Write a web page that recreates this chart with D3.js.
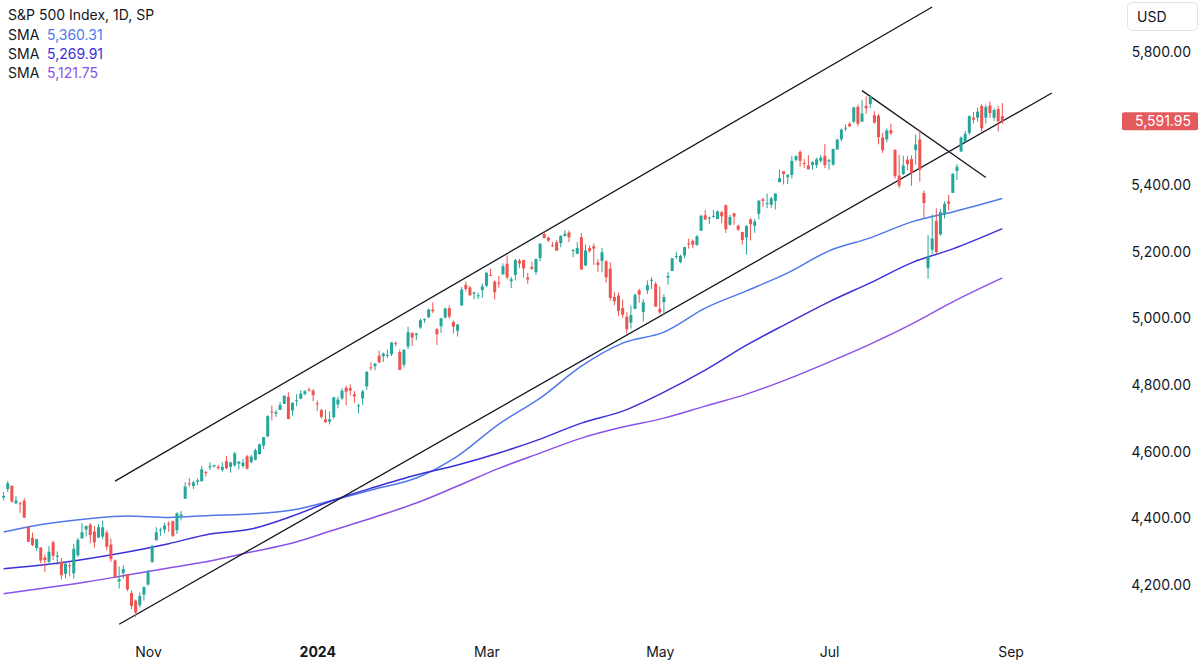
<!DOCTYPE html>
<html>
<head>
<meta charset="utf-8">
<script src="https://cdn.jsdelivr.net/npm/d3@7"></script>
<style>
  html, body { margin: 0; padding: 0; background: #ffffff; }
  svg { display: block; font-family: Inter, "Noto Sans", sans-serif; }
</style>
</head>
<body>
<div id="chart"></div>
<script>
// S&P 500 daily candles, Sep 13 2023 - Aug 29 2024 (one month per line)
const days = [
  "2023-09-13","2023-09-14","2023-09-15","2023-09-18","2023-09-19","2023-09-20","2023-09-21","2023-09-22","2023-09-25","2023-09-26","2023-09-27","2023-09-28","2023-09-29",
  "2023-10-02","2023-10-03","2023-10-04","2023-10-05","2023-10-06","2023-10-09","2023-10-10","2023-10-11","2023-10-12","2023-10-13","2023-10-16","2023-10-17","2023-10-18","2023-10-19","2023-10-20","2023-10-23","2023-10-24","2023-10-25","2023-10-26","2023-10-27","2023-10-30","2023-10-31",
  "2023-11-01","2023-11-02","2023-11-03","2023-11-06","2023-11-07","2023-11-08","2023-11-09","2023-11-10","2023-11-13","2023-11-14","2023-11-15","2023-11-16","2023-11-17","2023-11-20","2023-11-21","2023-11-22","2023-11-24","2023-11-27","2023-11-28","2023-11-29","2023-11-30",
  "2023-12-01","2023-12-04","2023-12-05","2023-12-06","2023-12-07","2023-12-08","2023-12-11","2023-12-12","2023-12-13","2023-12-14","2023-12-15","2023-12-18","2023-12-19","2023-12-20","2023-12-21","2023-12-22","2023-12-26","2023-12-27","2023-12-28","2023-12-29",
  "2024-01-02","2024-01-03","2024-01-04","2024-01-05","2024-01-08","2024-01-09","2024-01-10","2024-01-11","2024-01-12","2024-01-16","2024-01-17","2024-01-18","2024-01-19","2024-01-22","2024-01-23","2024-01-24","2024-01-25","2024-01-26","2024-01-29","2024-01-30","2024-01-31",
  "2024-02-01","2024-02-02","2024-02-05","2024-02-06","2024-02-07","2024-02-08","2024-02-09","2024-02-12","2024-02-13","2024-02-14","2024-02-15","2024-02-16","2024-02-20","2024-02-21","2024-02-22","2024-02-23","2024-02-26","2024-02-27","2024-02-28","2024-02-29",
  "2024-03-01","2024-03-04","2024-03-05","2024-03-06","2024-03-07","2024-03-08","2024-03-11","2024-03-12","2024-03-13","2024-03-14","2024-03-15","2024-03-18","2024-03-19","2024-03-20","2024-03-21","2024-03-22","2024-03-25","2024-03-26","2024-03-27","2024-03-28",
  "2024-04-01","2024-04-02","2024-04-03","2024-04-04","2024-04-05","2024-04-08","2024-04-09","2024-04-10","2024-04-11","2024-04-12","2024-04-15","2024-04-16","2024-04-17","2024-04-18","2024-04-19","2024-04-22","2024-04-23","2024-04-24","2024-04-25","2024-04-26","2024-04-29","2024-04-30",
  "2024-05-01","2024-05-02","2024-05-03","2024-05-06","2024-05-07","2024-05-08","2024-05-09","2024-05-10","2024-05-13","2024-05-14","2024-05-15","2024-05-16","2024-05-17","2024-05-20","2024-05-21","2024-05-22","2024-05-23","2024-05-24","2024-05-28","2024-05-29","2024-05-30","2024-05-31",
  "2024-06-03","2024-06-04","2024-06-05","2024-06-06","2024-06-07","2024-06-10","2024-06-11","2024-06-12","2024-06-13","2024-06-14","2024-06-17","2024-06-18","2024-06-20","2024-06-21","2024-06-24","2024-06-25","2024-06-26","2024-06-27","2024-06-28",
  "2024-07-01","2024-07-02","2024-07-03","2024-07-05","2024-07-08","2024-07-09","2024-07-10","2024-07-11","2024-07-12","2024-07-15","2024-07-16","2024-07-17","2024-07-18","2024-07-19","2024-07-22","2024-07-23","2024-07-24","2024-07-25","2024-07-26","2024-07-29","2024-07-30","2024-07-31",
  "2024-08-01","2024-08-02","2024-08-05","2024-08-06","2024-08-07","2024-08-08","2024-08-09","2024-08-12","2024-08-13","2024-08-14","2024-08-15","2024-08-16","2024-08-19","2024-08-20","2024-08-21","2024-08-22","2024-08-23","2024-08-26","2024-08-27","2024-08-28","2024-08-29"
];

const opens = [
  4462.65,4487.78,4497.98,4445.13,4445.41,4452.81,4374.36,4341.74,4310.62,4312.88,4282.63,4269.65,4328.18,
  4284.52,4269.75,4233.83,4259.31,4234.79,4289.02,4339.75,4366.59,4380.94,4360.49,4342.37,4345.23,4357.35,4321.36,4273.85,4210.40,4235.79,4232.42,4175.99,4152.93,4139.39,4171.33,
  4201.27,4268.26,4334.23,4364.27,4366.21,4384.37,4391.41,4364.15,4406.66,4458.97,4505.30,4497.08,4509.55,4511.70,4538.77,4553.04,4555.84,4554.86,4545.55,4571.84,4554.87,
  4559.43,4564.37,4557.25,4586.23,4568.84,4576.20,4593.39,4618.30,4646.20,4721.04,4714.23,4725.58,4743.72,4764.73,4724.29,4753.92,4758.86,4773.45,4786.44,4782.88,
  4745.20,4725.07,4697.42,4690.57,4703.70,4741.93,4759.94,4792.13,4791.18,4772.35,4739.13,4760.10,4796.28,4853.42,4856.80,4888.56,4886.66,4888.91,4892.95,4925.89,4899.19,
  4861.11,4916.06,4957.19,4950.16,4973.05,4995.16,5004.17,5026.83,4967.94,4976.44,5003.14,5031.13,4989.32,4963.03,5038.83,5100.92,5093.00,5074.60,5067.20,5085.36,
  5098.51,5130.99,5110.52,5108.03,5132.38,5164.46,5111.96,5130.79,5173.49,5175.14,5123.31,5154.77,5139.09,5181.69,5253.43,5242.48,5219.52,5228.85,5226.31,5248.03,
  5257.97,5204.29,5194.37,5244.05,5158.95,5211.37,5217.03,5167.88,5172.95,5171.51,5149.67,5064.59,5068.97,5031.52,5005.44,4987.33,5028.85,5084.86,5019.88,5084.65,5114.13,5103.78,
  5029.03,5049.32,5122.78,5142.42,5187.20,5168.98,5189.03,5225.49,5233.08,5221.10,5263.26,5310.07,5303.10,5305.35,5298.69,5319.28,5340.26,5281.45,5315.91,5278.73,5259.77,5243.21,
  5297.15,5278.24,5314.48,5357.80,5343.81,5341.22,5353.00,5409.13,5441.93,5424.08,5431.11,5476.15,5499.99,5466.77,5459.58,5460.73,5460.71,5473.59,5488.48,
  5471.08,5461.84,5507.44,5537.91,5572.75,5584.24,5591.26,5635.21,5590.76,5638.16,5644.09,5610.07,5608.56,5543.37,5537.84,5565.30,5505.84,5428.70,5433.67,5476.55,5478.73,5505.59,
  5537.34,5376.63,5151.14,5206.42,5293.13,5252.57,5311.76,5351.48,5376.98,5442.82,5501.13,5530.50,5557.23,5602.88,5603.09,5637.77,5602.89,5639.66,5602.58,5629.17,5607.30
];

const highs = [
  4479.39,4511.99,4497.98,4466.36,4449.85,4461.03,4375.70,4357.40,4338.51,4313.01,4292.07,4317.27,4333.15,
  4300.58,4281.15,4268.50,4267.13,4324.10,4341.73,4385.46,4378.64,4385.85,4377.10,4383.33,4393.57,4364.20,4339.54,4276.56,4255.84,4259.38,4232.42,4183.60,4156.70,4177.47,4195.55,
  4245.64,4319.72,4373.62,4372.21,4386.26,4391.20,4393.40,4418.03,4421.76,4508.67,4521.17,4511.99,4520.12,4557.11,4542.14,4568.43,4560.31,4560.52,4568.14,4587.64,4569.89,
  4599.39,4572.37,4578.56,4590.74,4590.92,4609.23,4623.71,4643.93,4709.69,4738.57,4725.53,4749.52,4768.69,4778.01,4748.71,4772.94,4784.72,4785.39,4793.30,4788.43,
  4754.33,4729.29,4726.78,4721.49,4764.54,4765.47,4790.80,4798.50,4802.40,4782.34,4744.23,4785.79,4842.07,4868.41,4866.48,4903.68,4898.15,4906.69,4929.31,4931.09,4906.75,
  4906.97,4975.29,4957.19,4957.77,4999.89,5000.40,5030.06,5048.39,4971.30,5002.52,5032.72,5038.70,4993.71,4983.21,5094.39,5111.06,5097.66,5080.69,5077.37,5104.99,
  5140.33,5149.67,5114.54,5127.97,5165.62,5189.26,5124.66,5179.14,5179.14,5176.85,5136.86,5170.28,5180.31,5226.19,5261.10,5246.09,5229.09,5235.16,5249.26,5264.85,
  5263.95,5208.34,5228.75,5256.59,5222.18,5219.57,5224.81,5178.43,5211.78,5175.03,5168.43,5079.84,5077.96,5056.66,5019.02,5038.84,5076.12,5089.48,5057.75,5114.62,5123.49,5110.83,
  5096.12,5073.21,5139.12,5181.00,5200.23,5191.95,5215.30,5239.66,5237.26,5250.37,5311.76,5325.49,5305.45,5325.32,5324.32,5323.18,5341.88,5311.65,5315.91,5282.27,5260.21,5280.33,
  5302.11,5298.80,5354.16,5362.35,5375.08,5365.79,5375.95,5447.25,5441.93,5432.39,5488.50,5490.38,5505.53,5478.31,5490.66,5472.88,5483.14,5490.81,5523.64,
  5479.55,5509.69,5539.27,5570.33,5583.11,5590.75,5635.39,5642.45,5655.56,5666.94,5669.67,5622.49,5614.05,5557.50,5570.36,5585.34,5508.04,5491.59,5488.32,5487.74,5489.46,5551.51,
  5566.16,5383.89,5250.89,5312.34,5330.64,5328.03,5351.88,5371.20,5436.50,5463.22,5546.23,5563.51,5608.30,5620.51,5632.68,5643.22,5641.82,5651.62,5631.18,5639.17,5646.95
];

const lows = [
  4453.52,4478.69,4447.21,4442.11,4416.61,4401.38,4329.17,4316.49,4302.70,4265.98,4238.63,4264.38,4274.86,
  4260.21,4216.45,4220.48,4225.91,4219.55,4283.79,4339.64,4345.34,4325.43,4311.97,4342.37,4337.54,4303.84,4269.69,4223.03,4189.22,4219.43,4181.42,4127.90,4103.78,4132.94,4153.12,
  4197.74,4268.26,4334.23,4347.53,4355.41,4359.76,4343.94,4353.34,4393.82,4458.97,4495.31,4487.83,4499.66,4510.36,4525.51,4545.05,4552.80,4546.32,4540.51,4547.15,4537.24,
  4554.71,4546.72,4551.68,4546.50,4565.22,4574.06,4590.74,4608.09,4643.23,4694.34,4704.69,4725.58,4743.72,4697.82,4708.35,4736.77,4758.45,4768.90,4780.98,4751.99,
  4722.67,4699.71,4687.53,4682.11,4699.82,4730.35,4756.20,4739.58,4768.98,4747.12,4714.82,4740.57,4785.87,4844.05,4844.37,4865.94,4869.34,4881.47,4887.40,4916.27,4845.15,
  4853.52,4907.99,4918.09,4934.88,4969.05,4987.09,5000.34,5016.83,4920.31,4956.45,4999.44,4999.52,4955.02,4946.00,5038.83,5081.46,5068.91,5057.29,5058.35,5061.89,
  5094.16,5127.18,5056.82,5092.22,5131.59,5117.50,5091.14,5114.48,5151.88,5123.30,5104.35,5145.47,5131.59,5171.55,5240.66,5229.87,5216.09,5203.42,5213.92,5245.82,
  5229.20,5184.05,5194.37,5146.06,5157.21,5197.35,5160.78,5138.70,5138.77,5107.94,5052.47,5039.83,5007.25,5001.89,4953.56,4969.40,5027.96,5047.02,4990.58,5073.14,5088.65,5035.31,
  5013.45,5011.05,5101.22,5142.42,5178.96,5165.86,5180.41,5209.68,5211.16,5217.98,5263.26,5296.19,5283.59,5302.40,5297.87,5286.01,5256.93,5278.39,5280.89,5262.70,5222.10,5191.68,
  5234.32,5257.63,5297.64,5335.36,5331.33,5331.52,5327.25,5409.13,5402.51,5403.75,5420.40,5471.32,5455.56,5452.03,5447.59,5446.56,5451.87,5467.54,5451.12,
  5446.53,5458.43,5507.42,5531.63,5562.51,5574.57,5586.44,5576.53,5590.44,5614.75,5631.19,5584.81,5522.81,5497.04,5529.04,5550.90,5419.98,5390.95,5430.70,5444.44,5398.11,5461.64,
  5410.42,5302.03,5119.26,5193.56,5195.54,5248.39,5300.41,5324.37,5376.98,5415.85,5501.13,5530.50,5550.74,5585.50,5591.57,5560.95,5585.16,5602.34,5593.48,5561.05,5583.71
];

const closes = [
  4467.44,4505.10,4450.32,4453.53,4443.95,4402.20,4330.00,4320.06,4337.44,4273.53,4274.51,4299.70,4288.05,
  4288.39,4229.45,4263.75,4258.19,4308.50,4335.66,4358.24,4376.95,4349.61,4327.78,4373.63,4373.20,4314.60,4278.00,4224.16,4217.04,4247.68,4186.77,4137.23,4117.37,4166.82,4193.80,
  4237.86,4317.78,4358.34,4365.98,4378.38,4382.78,4347.35,4415.24,4411.55,4495.70,4502.88,4508.24,4514.02,4547.38,4538.19,4556.62,4559.34,4550.43,4554.89,4550.58,4567.80,
  4594.63,4569.78,4567.18,4549.34,4585.59,4604.37,4622.44,4643.70,4707.09,4719.55,4719.19,4740.56,4768.37,4698.35,4746.75,4754.63,4774.75,4781.58,4783.35,4769.83,
  4742.83,4704.81,4688.68,4697.24,4763.54,4756.50,4783.45,4780.24,4783.83,4765.98,4739.21,4780.94,4839.81,4850.43,4864.60,4868.55,4894.16,4890.97,4927.93,4924.97,4845.65,
  4906.19,4958.61,4942.81,4954.23,4995.06,4997.91,5026.61,5021.84,4953.17,5000.62,5029.73,5005.57,4975.51,4981.80,5087.03,5088.80,5069.53,5078.18,5069.76,5096.27,
  5137.08,5130.95,5078.65,5104.76,5157.36,5123.69,5117.94,5175.27,5165.31,5150.48,5117.09,5149.42,5178.51,5224.62,5241.53,5234.18,5218.19,5203.58,5248.49,5254.35,
  5243.77,5205.81,5211.49,5147.21,5204.34,5202.39,5209.91,5160.64,5199.06,5123.41,5061.82,5051.41,5022.21,5011.12,4967.23,5010.60,5070.55,5071.63,5048.42,5099.96,5116.17,5035.69,
  5018.39,5064.20,5127.79,5180.74,5187.70,5187.67,5214.08,5222.68,5221.42,5246.68,5308.15,5297.10,5303.27,5308.13,5321.41,5307.01,5267.84,5304.72,5306.04,5266.95,5235.48,5277.51,
  5283.40,5291.34,5354.03,5352.96,5346.99,5360.79,5375.32,5421.03,5433.74,5431.60,5473.23,5487.03,5473.17,5464.62,5447.87,5469.30,5477.90,5482.87,5460.48,
  5475.09,5509.01,5537.02,5567.19,5572.85,5576.98,5633.91,5584.54,5615.35,5631.22,5667.20,5588.27,5544.59,5505.00,5564.41,5555.74,5427.13,5399.22,5459.10,5463.54,5436.44,5522.30,
  5446.68,5346.56,5186.33,5240.03,5199.50,5319.31,5344.16,5344.39,5434.43,5455.21,5543.22,5554.25,5608.25,5597.12,5620.85,5570.64,5634.61,5616.84,5625.80,5592.18,5591.95
];

// trading days after the last bar (empty right margin, Sep tick, trend line ends)
const futureDays = ["2024-08-30","2024-09-03","2024-09-04","2024-09-05","2024-09-06","2024-09-09","2024-09-10","2024-09-11","2024-09-12","2024-09-13","2024-09-16","2024-09-17"];

// moving averages at sample dates
const smaDates = ["2023-09-13","2023-09-27","2023-10-11","2023-10-25","2023-11-08","2023-11-22","2023-12-07","2023-12-21","2024-01-08","2024-01-23","2024-02-06","2024-02-21","2024-03-06","2024-03-20","2024-04-04","2024-04-18","2024-05-02","2024-05-16","2024-05-31","2024-06-14","2024-07-01","2024-07-16","2024-07-30","2024-08-13","2024-08-29"];
const smaFast = [4359,4383,4398,4407,4403,4409,4413,4425,4455,4488,4521,4587,4683,4761,4857,4926,4959,5031,5083,5137,5203,5242,5290,5320,5360.31];
const smaMid  = [4249,4261,4278,4299,4324,4353,4368,4407,4455,4494,4530,4560,4596,4638,4686,4722,4779,4845,4920,4986,5050,5107,5167,5209,5269.91];
const smaSlow = [4174,4191,4209,4230,4251,4272,4299,4326,4365,4404,4446,4497,4550,4596,4641,4674,4701,4737,4773,4818,4869,4923,4983,5050,5121.75];

// hand-drawn trend lines: [date, price] start and end
const trendStarts = [["2023-10-20", 4512], ["2023-10-23", 4082], ["2024-07-12", 5684]];
const trendEnds   = [["2024-08-06", 5935], ["2024-09-17", 5677], ["2024-08-23", 5423]];

// 5,600 is hidden behind the last-price label
const priceTicks = [4200, 4400, 4600, 4800, 5000, 5200, 5400, 5800];
const tickMonths = ["2023-11", "2024-01", "2024-03", "2024-05", "2024-07", "2024-09"];
const tickLabels = ["Nov", "2024", "Mar", "May", "Jul", "Sep"];

const title = "S&P 500 Index, 1D, SP";
const currency = "USD";

const width = 1200, height = 664;
const upColor = "#26a69a", downColor = "#ef5350";
const smaColors = ["#5078ea", "#3b30d8", "#8b52e8"];

const allDays = days.concat(futureDays);
const dayIndex = d => allDays.indexOf(d);

const step = 4.127;
const x = d3.scaleLinear()
    .domain([0, days.length - 1])
    .range([3.6, 3.6 + (days.length - 1) * step]);
const y = d3.scaleLinear().domain([4200, 5800]).range([585, 52]);

const svg = d3.select('#chart').append('svg')
    .attr('width', width)
    .attr('height', height);

svg.append('rect').attr('width', width).attr('height', height).attr('fill', '#ffffff');

// moving averages
const smaLine = d3.line()
    .x(d => x(dayIndex(d[0])))
    .y(d => y(d[1]))
    .curve(d3.curveMonotoneX);

[smaFast, smaMid, smaSlow].forEach((vals, i) => {
    svg.append('path')
        .datum(smaDates.map((d, j) => [d, vals[j]]))
        .attr('fill', 'none')
        .attr('stroke', smaColors[i])
        .attr('stroke-width', 1.5)
        .attr('d', smaLine);
});

// trend lines
svg.selectAll('.trend')
    .data(trendStarts.map((s, i) => [s, trendEnds[i]]))
    .enter().append('line')
    .attr('class', 'trend')
    .attr('x1', d => x(dayIndex(d[0][0])))
    .attr('y1', d => y(d[0][1]))
    .attr('x2', d => x(dayIndex(d[1][0])))
    .attr('y2', d => y(d[1][1]))
    .attr('stroke', '#131722')
    .attr('stroke-width', 1.3);

// candles
const candles = days.map((d, i) => ({
    i: i, open: opens[i], high: highs[i], low: lows[i], close: closes[i]
}));

const candle = svg.append('g').selectAll('g')
    .data(candles)
    .enter().append('g')
    .attr('fill', d => d.close >= d.open ? upColor : downColor)
    .attr('stroke', d => d.close >= d.open ? upColor : downColor);

candle.append('line')
    .attr('x1', d => x(d.i))
    .attr('x2', d => x(d.i))
    .attr('y1', d => y(d.high))
    .attr('y2', d => y(d.low))
    .attr('stroke-width', 1);

candle.append('rect')
    .attr('x', d => x(d.i) - 1.5)
    .attr('width', 3)
    .attr('y', d => y(Math.max(d.open, d.close)))
    .attr('height', d => Math.max(1, Math.abs(y(d.open) - y(d.close))))
    .attr('stroke', 'none');

// price axis
const yAxis = svg.append('g')
    .attr('transform', 'translate(1191,0)')
    .call(d3.axisRight(y).tickValues(priceTicks).tickSize(0).tickPadding(0).tickFormat(d3.format(',.2f')));
yAxis.select('.domain').remove();
yAxis.selectAll('text')
    .attr('text-anchor', 'end')
    .attr('fill', '#131722')
    .style('font-size', '14px')
    .style('font-family', 'Inter, "Noto Sans", sans-serif');

// time axis
const tickIdx = tickMonths.map(m => allDays.findIndex(d => d.startsWith(m)));
const xAxis = svg.append('g')
    .attr('transform', 'translate(0,647)')
    .call(d3.axisBottom(x).tickValues(tickIdx).tickSize(0).tickPadding(0)
        .tickFormat((d, i) => tickLabels[i]));
xAxis.select('.domain').remove();
xAxis.selectAll('text')
    .attr('fill', '#131722')
    .style('font-size', '14px')
    .style('font-family', 'Inter, "Noto Sans", sans-serif')
    .style('font-weight', (d, i) => tickLabels[i] === '2024' ? 700 : 400);

// currency box
svg.append('rect')
    .attr('x', 1127.5).attr('y', 2.5)
    .attr('width', 70).attr('height', 28)
    .attr('rx', 5)
    .attr('fill', '#ffffff')
    .attr('stroke', '#e0e3eb');
svg.append('text')
    .attr('x', 1137).attr('y', 21.5)
    .attr('fill', '#131722')
    .style('font-size', '14px')
    .text(currency);

// last price label
const last = closes[closes.length - 1];
svg.append('rect')
    .attr('x', 1122).attr('y', y(last) - 9)
    .attr('width', 76).attr('height', 18)
    .attr('rx', 2)
    .attr('fill', '#e45b5d');
svg.append('text')
    .attr('x', 1191).attr('y', y(last))
    .attr('dy', '0.35em')
    .attr('text-anchor', 'end')
    .attr('fill', '#ffffff')
    .style('font-size', '14px')
    .text(d3.format(',.2f')(last));

// legend
svg.append('text')
    .attr('x', 8).attr('y', 20)
    .attr('fill', '#131722')
    .style('font-size', '14px')
    .text(title);

[smaFast, smaMid, smaSlow].forEach((vals, i) => {
    const t = svg.append('text')
        .attr('x', 8).attr('y', 39.5 + i * 19.3)
        .style('font-size', '14px');
    t.append('tspan').attr('fill', '#131722').text('SMA');
    t.append('tspan').attr('x', 47).attr('fill', smaColors[i])
        .text(d3.format(',.2f')(vals[vals.length - 1]));
});
</script>
</body>
</html>
